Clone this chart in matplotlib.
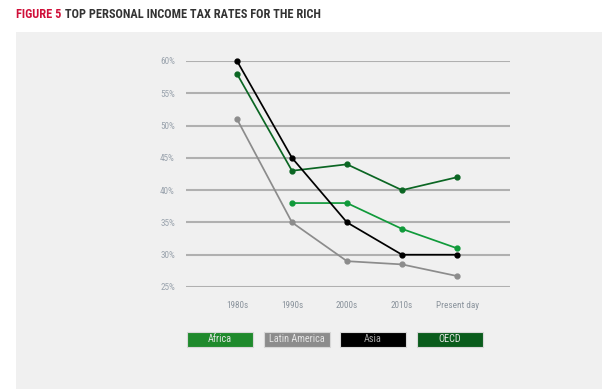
import matplotlib
matplotlib.use("Agg")
import matplotlib.pyplot as plt
from matplotlib.patches import Rectangle

categories = ["1980s", "1990s", "2000s", "2010s", "Present day"]
africa = [None, 38, 38, 34, 31]
latin_america = [51, 35, 29, 28.5, 26.7]
asia = [60, 45, 35, 30, 30]
oecd = [58, 43, 44, 40, 42]
yticks = [25, 30, 35, 40, 45, 50, 55, 60]

series = [
    ("Africa", africa, "#109a3a", "#1f8a2c"),
    ("Latin America", latin_america, "#8c8c8c", "#8c8c8c"),
    ("Asia", asia, "#000000", "#000000"),
    ("OECD", oecd, "#0b6623", "#0a5c1c"),
]
draw_order = ["Latin America", "Africa", "OECD", "Asia"]

W, H = 602, 389
fig = plt.figure(figsize=(W / 100, H / 100), dpi=100)
fig.patch.set_facecolor("white")

# background panel
fig.patches.append(Rectangle((16 / W, 0), 1 - 16 / W, 1 - 32 / H,
                             transform=fig.transFigure, facecolor="#f0f0f0",
                             edgecolor="none", zorder=-5))

fam = ["Roboto Condensed", "Liberation Sans Narrow", "DejaVu Sans Condensed", "Roboto", "DejaVu Sans"]
t1 = fig.text(16 / W, 1 - 15 / H, "FIGURE 5", color="#d0103a", fontsize=8.8,
              fontweight="bold", family=fam, va="center", ha="left")
fig.canvas.draw()
bb = t1.get_window_extent()
fig.text((bb.x1 + 3.5) / W, 1 - 15 / H, "TOP PERSONAL INCOME TAX RATES FOR THE RICH",
         color="#333333", fontsize=8.8, fontweight="bold", family=fam,
         va="center", ha="left")

left, right = 186, 510
top, bottom = 61, 287
ax = fig.add_axes([left / W, 1 - bottom / H, (right - left) / W, (bottom - top) / H])
ax.set_facecolor("none")
x = list(range(len(categories)))
sp = 55
ax.set_xlim(-(237 - left) / sp, 4 + (right - 457) / sp)
ax.set_ylim(25, 60)
for s in ax.spines.values():
    s.set_visible(False)
ax.set_yticks(yticks)
ax.set_yticklabels([f"{v}%" for v in yticks])
ax.yaxis.grid(True, color="#b0b0b0", linewidth=1.5)
ax.set_axisbelow(True)
ax.tick_params(axis="y", length=0, pad=8, labelsize=6.6, labelcolor="#9aa3ad")
ax.set_xticks(x)
ax.set_xticklabels(categories)
ax.tick_params(axis="x", length=0, pad=10, labelsize=6.6, labelcolor="#8a939c")
for lab in ax.get_xticklabels() + ax.get_yticklabels():
    lab.set_family(fam)

lookup = {n: (v, lc, bc) for n, v, lc, bc in series}
for i, name in enumerate(draw_order):
    vals, lc, bc = lookup[name]
    xs = [xi for xi, v in zip(x, vals) if v is not None]
    ys = [v for v in vals if v is not None]
    ax.plot(xs, ys, color=lc, linewidth=1.25, marker="o", markersize=3.5,
            clip_on=False, zorder=3 + i)

# legend boxes
bx = [187, 264, 340, 417]
bw, bh, by = 66, 15, 332
for (name, vals, lc, bc), x0 in zip(series, bx):
    fig.patches.append(Rectangle((x0 / W, 1 - (by + bh) / H), bw / W, bh / H,
                                 transform=fig.transFigure, facecolor=bc,
                                 edgecolor="#d8d8d8", linewidth=0.8, zorder=2))
    tc = "#a8a8a8" if name == "Asia" else "#e4e4e4"
    fig.text((x0 + bw / 2) / W, 1 - (by + bh / 2) / H, name, color=tc,
             fontsize=7.3, family=fam, ha="center", va="center", zorder=3)

fig.savefig("out.png", dpi=100)
